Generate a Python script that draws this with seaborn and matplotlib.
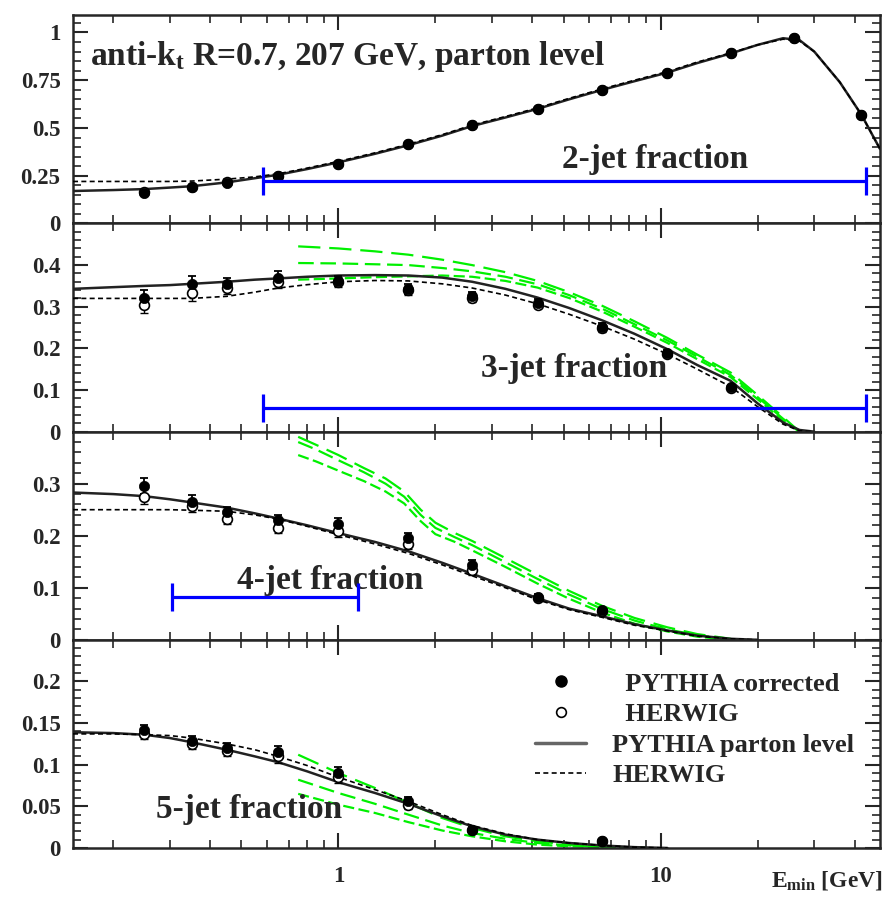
import numpy as np
import pandas as pd
import matplotlib
matplotlib.use("Agg")
import matplotlib.pyplot as plt
from matplotlib.lines import Line2D
from matplotlib.ticker import FixedLocator, MultipleLocator, NullFormatter, LogLocator
import seaborn as sns

# ---------------- data ----------------
X_PTS = [0.25, 0.35, 0.45, 0.65, 1.0, 1.65, 2.6, 4.15, 6.6, 10.5, 16.5, 26, 42]

J2_PY = [0.16, 0.19, 0.21, 0.25, 0.31, 0.415, 0.515, 0.60, 0.70, 0.79, 0.89, 0.97, 0.57]
J2_HW = [0.165, 0.19, 0.215, 0.25, 0.31, 0.415, 0.515, 0.60, 0.70, 0.79, 0.89, 0.97, 0.57]

J3_X = X_PTS[:11]
J3_PY = [0.32, 0.355, 0.355, 0.37, 0.362, 0.343, 0.326, 0.31, 0.252, 0.19, 0.107]
J3_HW = [0.305, 0.332, 0.345, 0.36, 0.36, 0.34, 0.322, 0.305, 0.248, 0.187, 0.105]
J3_ERR = [0.02, 0.018, 0.015, 0.015, 0.012, 0.012, 0.01, 0.008, 0.008, 0.006, 0.005]

J4_X = X_PTS[:9]
J4_PY = [0.295, 0.265, 0.245, 0.23, 0.222, 0.195, 0.143, 0.083, 0.058]
J4_HW = [0.275, 0.258, 0.232, 0.215, 0.21, 0.185, 0.135, 0.08, 0.056]
J4_ERR = [0.015, 0.013, 0.01, 0.01, 0.012, 0.01, 0.01, 0.005, 0.004]

J5_X = [0.25, 0.35, 0.45, 0.65, 1.0, 1.65, 2.6, 6.6]
J5_PY = [0.142, 0.128, 0.12, 0.115, 0.09, 0.056, 0.022, 0.008]
J5_HW = [0.137, 0.125, 0.117, 0.11, 0.085, 0.052, 0.021, 0.008]
J5_ERR = [0.006, 0.006, 0.006, 0.008, 0.007, 0.005, 0.003, 0.002]

X_CURVE = [0.15, 0.2, 0.25, 0.3, 0.35, 0.45, 0.55, 0.65, 0.8, 1.0, 1.3, 1.65, 2.1, 2.6,
           3.3, 4.15, 5.2, 6.6, 8.3, 10.5, 13, 16.5, 20, 24, 27, 30, 36, 42, 48]

J2_SOLID = [0.17, 0.175, 0.18, 0.188, 0.195, 0.215, 0.237, 0.255, 0.285, 0.32, 0.365, 0.41,
            0.46, 0.51, 0.555, 0.60, 0.65, 0.70, 0.745, 0.79, 0.84, 0.89, 0.935, 0.97,
            0.96, 0.90, 0.74, 0.57, 0.39]
J2_DASH = [0.22, 0.22, 0.22, 0.22, 0.222, 0.232, 0.244, 0.26, 0.29, 0.325, 0.37, 0.415,
           0.465, 0.515, 0.56, 0.605, 0.655, 0.705, 0.75, 0.795, 0.845, 0.893, 0.935, 0.965,
           0.955, 0.90, 0.74, 0.57, 0.39]

J3_SOLID = [0.343, 0.347, 0.35, 0.352, 0.355, 0.36, 0.365, 0.368, 0.372, 0.375, 0.376, 0.375,
            0.37, 0.36, 0.343, 0.322, 0.297, 0.267, 0.235, 0.198, 0.16, 0.122, 0.068, 0.022,
            0.004, 0.0]
J3_DASH = [0.32, 0.32, 0.32, 0.32, 0.32, 0.325, 0.335, 0.345, 0.353, 0.36, 0.363, 0.362,
           0.355, 0.345, 0.328, 0.307, 0.282, 0.253, 0.222, 0.186, 0.15, 0.108, 0.06, 0.018,
           0.002, 0.0]

J4_SOLID = [0.283, 0.28, 0.276, 0.27, 0.264, 0.254, 0.243, 0.233, 0.22, 0.205, 0.188, 0.17,
            0.148, 0.127, 0.103, 0.08, 0.06, 0.045, 0.03, 0.018, 0.008, 0.002, 0.0]
J4_DASH = [0.25, 0.25, 0.25, 0.25, 0.249, 0.247, 0.24, 0.232, 0.218, 0.202, 0.184, 0.166,
           0.144, 0.123, 0.1, 0.077, 0.058, 0.043, 0.028, 0.017, 0.007, 0.002, 0.0]

J5_SOLID = [0.139, 0.138, 0.136, 0.132, 0.127, 0.118, 0.11, 0.103, 0.092, 0.079, 0.066, 0.053,
            0.038, 0.026, 0.016, 0.01, 0.006, 0.003, 0.001, 0.0]
J5_DASH = [0.137, 0.137, 0.136, 0.135, 0.132, 0.125, 0.118, 0.11, 0.099, 0.085, 0.07, 0.056,
           0.04, 0.027, 0.017, 0.01, 0.006, 0.003, 0.001, 0.0]

G3_X = [0.75, 1.0, 1.3, 1.65, 2.1, 2.6, 3.3, 4.15, 5.2, 6.6, 8.3, 10.5, 13, 16.5, 20, 24, 27]
G3_A = [0.445, 0.44, 0.433, 0.425, 0.413, 0.40, 0.383, 0.362, 0.335, 0.302, 0.265, 0.225,
        0.185, 0.142, 0.088, 0.035, 0.0]
G3_B = [0.405, 0.404, 0.402, 0.40, 0.393, 0.385, 0.372, 0.354, 0.328, 0.295, 0.258, 0.219,
        0.18, 0.136, 0.083, 0.031, 0.0]
G3_C = [0.365, 0.368, 0.371, 0.373, 0.375, 0.372, 0.362, 0.346, 0.321, 0.288, 0.252, 0.213,
        0.174, 0.131, 0.078, 0.027, 0.0]

G4_X = [0.75, 0.85, 1.0, 1.2, 1.4, 1.6, 1.8, 2.0, 2.3, 2.6, 3.3, 4.15, 5.2, 6.6, 8.3, 10.5, 13, 16.5]
G4_A = [0.39, 0.375, 0.355, 0.33, 0.31, 0.285, 0.25, 0.225, 0.205, 0.19, 0.157, 0.125, 0.094,
        0.065, 0.042, 0.024, 0.011, 0.002]
G4_B = [0.38, 0.366, 0.345, 0.322, 0.30, 0.275, 0.24, 0.215, 0.197, 0.182, 0.149, 0.117, 0.087,
        0.059, 0.037, 0.02, 0.009, 0.001]
G4_C = [0.355, 0.343, 0.325, 0.305, 0.285, 0.262, 0.228, 0.203, 0.188, 0.172, 0.14, 0.108,
        0.079, 0.052, 0.031, 0.016, 0.006, 0.0]

G5_X = [0.75, 1.0, 1.3, 1.65, 2.1, 2.6, 3.3, 4.15, 5.2, 6.6, 9.0]
G5_A = [0.112, 0.09, 0.072, 0.054, 0.036, 0.024, 0.014, 0.008, 0.004, 0.002, 0.0]
G5_B = [0.082, 0.066, 0.053, 0.04, 0.027, 0.018, 0.011, 0.006, 0.003, 0.001, 0.0]
G5_C = [0.065, 0.052, 0.042, 0.031, 0.021, 0.014, 0.008, 0.004, 0.002, 0.001, 0.0]

# blue range bars
BAR_LO = [0.585, 0.585, 0.305]
BAR_HI = [43.3, 43.3, 1.153]
BAR_Y = [0.22, 0.057, 0.082]

PANEL_LABELS = ["2-jet fraction", "3-jet fraction", "4-jet fraction", "5-jet fraction"]
YLIMS = [(0, 1.09), (0, 0.5), (0, 0.4), (0, 0.25)]
YTICKS = [[0, 0.25, 0.5, 0.75, 1], [0, 0.1, 0.2, 0.3, 0.4], [0, 0.1, 0.2, 0.3],
          [0, 0.05, 0.1, 0.15, 0.2]]
YTICKLABELS = [["0", "0.25", "0.5", "0.75", "1"], ["0", "0.1", "0.2", "0.3", "0.4"],
               ["0", "0.1", "0.2", "0.3"], ["0", "0.05", "0.1", "0.15", "0.2"]]
YMINOR = [0.05, 0.02, 0.02, 0.01]

# ---------------- style ----------------
sns.set_style("ticks")
SERIF = "Liberation Serif"
plt.rcParams["font.family"] = [SERIF, "DejaVu Serif"]
plt.rcParams["font.weight"] = "bold"
plt.rcParams["mathtext.fontset"] = "custom"
plt.rcParams["mathtext.rm"] = "Liberation Serif:bold"
plt.rcParams["mathtext.it"] = "Liberation Serif:bold"
plt.rcParams["mathtext.bf"] = "Liberation Serif:bold"

fig, axes = plt.subplots(4, 1, figsize=(8.84, 9.0), dpi=100, sharex=True)
fig.subplots_adjust(left=0.0826, right=0.9955, top=0.983, bottom=0.0578, hspace=0)

GREEN = "#00f000"
green_styles = [(0, (10, 4)), (0, (7, 3)), (0, (5, 2))]

curve_sets = [
    (J2_SOLID, J2_DASH, None),
    (J3_SOLID, J3_DASH, (G3_X, [G3_A, G3_B, G3_C])),
    (J4_SOLID, J4_DASH, (G4_X, [G4_A, G4_B, G4_C])),
    (J5_SOLID, J5_DASH, (G5_X, [G5_A, G5_B, G5_C])),
]
point_sets = [
    (X_PTS, J2_PY, J2_HW, None),
    (J3_X, J3_PY, J3_HW, J3_ERR),
    (J4_X, J4_PY, J4_HW, J4_ERR),
    (J5_X, J5_PY, J5_HW, J5_ERR),
]

for i, ax in enumerate(axes):
    ax.set_xscale("log")
    solid, dash, greens = curve_sets[i]
    xs = X_CURVE[:len(solid)]
    xd = X_CURVE[:len(dash)]
    if greens is not None:
        gx, glist = greens
        for gy, ls in zip(glist, green_styles):
            sns.lineplot(x=gx, y=gy, ax=ax, color=GREEN, linewidth=1.6,
                         linestyle=ls, estimator=None, sort=False, zorder=2)
    sns.lineplot(x=xs, y=solid, ax=ax, color="#222222", linewidth=1.8,
                 estimator=None, sort=False, zorder=3)
    sns.lineplot(x=xd, y=dash, ax=ax, color="black", linewidth=1.2,
                 linestyle=(0, (3, 2)), estimator=None, sort=False, zorder=3)

    px, py, hw, err = point_sets[i]
    if err is not None:
        ax.errorbar(px, py, yerr=err, fmt="none", ecolor="black", elinewidth=1.3,
                    capsize=3, capthick=1.3, zorder=4)
        ax.errorbar(px, hw, yerr=err, fmt="none", ecolor="black", elinewidth=1.0,
                    capsize=3, capthick=1.0, zorder=4)
    sns.scatterplot(x=px, y=hw, ax=ax, s=50, marker="o", facecolor="white",
                    edgecolor="black", linewidth=1.2, zorder=5)
    sns.scatterplot(x=px, y=py, ax=ax, s=55, marker="o", color="black",
                    edgecolor="black", linewidth=0.5, zorder=6)

    if i < 3:
        lo, hi, yb = BAR_LO[i], BAR_HI[i], BAR_Y[i]
        ax.errorbar([lo], [yb], xerr=[[0], [hi - lo]], fmt="none", ecolor="#0000ff",
                    elinewidth=2.3, capsize=10, capthick=2.3, zorder=7)

    ax.set_xlim(0.15, 48)
    ax.set_ylim(*YLIMS[i])
    ax.set_yticks(YTICKS[i])
    ax.set_yticklabels(YTICKLABELS[i])
    ax.yaxis.set_minor_locator(MultipleLocator(YMINOR[i]))
    ax.tick_params(axis="both", which="both", direction="in", top=True, right=True,
                   labelsize=16.5)
    ax.tick_params(axis="both", which="major", length=11, width=1.5)
    ax.tick_params(axis="both", which="minor", length=6, width=1.2)
    ax.tick_params(axis="y", pad=9)
    ax.tick_params(axis="x", pad=13)
    for sp in ax.spines.values():
        sp.set_linewidth(1.8)
    ax.set_xlabel("")
    ax.set_ylabel("")
    for lab in ax.get_yticklabels():
        lab.set_fontweight("bold")

axes[-1].xaxis.set_major_locator(FixedLocator([1, 10]))
axes[-1].set_xticklabels(["1", "10"])
axes[-1].xaxis.set_minor_locator(LogLocator(base=10, subs=np.arange(2, 10)))
axes[-1].xaxis.set_minor_formatter(NullFormatter())
for lab in axes[-1].get_xticklabels():
    lab.set_fontweight("bold")

# panel labels
label_pos = [(0.721, 0.306), (0.621, 0.305), (0.318, 0.285), (0.218, 0.183)]
for ax, txt, (tx, ty) in zip(axes, PANEL_LABELS, label_pos):
    ax.text(tx, ty, txt, transform=ax.transAxes, ha="center", va="center",
            fontsize=24, fontweight="bold")

axes[0].text(0.021, 0.80, r"anti-k$_{\mathrm{t}}$ R=0.7, 207 GeV, parton level",
             transform=axes[0].transAxes, ha="left", va="center", fontsize=24,
             fontweight="bold")

fig.text(0.999, 0.022, r"E$_{\mathrm{min}}$ [GeV]", ha="right", va="center",
         fontsize=17, fontweight="bold")

handles = [
    Line2D([], [], marker="o", color="black", linestyle="none", markersize=8),
    Line2D([], [], marker="o", markerfacecolor="white", markeredgecolor="black",
           linestyle="none", markersize=7, markeredgewidth=1.2),
    Line2D([], [], color="#666666", linewidth=2.5),
    Line2D([], [], color="black", linewidth=1.2, linestyle=(0, (3, 2))),
]
labels = ["  PYTHIA corrected", "  HERWIG", "PYTHIA parton level", "HERWIG"]
leg = axes[-1].legend(handles, labels, loc="upper left", bbox_to_anchor=(0.56, 0.895),
                      frameon=False, fontsize=19, handlelength=1.9, labelspacing=0.27,
                      handletextpad=1.0, borderaxespad=0)
for t in leg.get_texts():
    t.set_fontweight("bold")

fig.savefig("out.png", dpi=100)
